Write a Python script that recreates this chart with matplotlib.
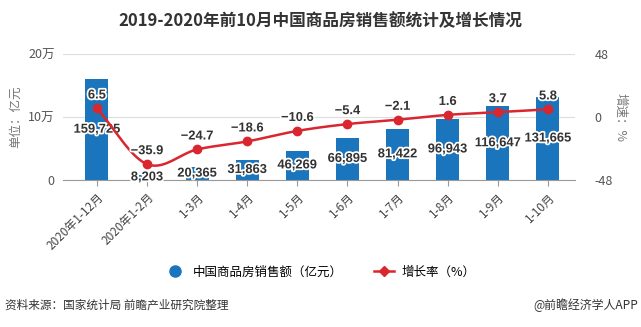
import matplotlib
matplotlib.use("Agg")
import matplotlib.pyplot as plt
import matplotlib.patheffects as pe
from matplotlib.lines import Line2D
import numpy as np

plt.rcParams['font.family'] = ['Noto Sans CJK SC', 'DejaVu Sans']

categories = ["2020年1-12月", "2020年1-2月", "1-3月", "1-4月", "1-5月",
              "1-6月", "1-7月", "1-8月", "1-9月", "1-10月"]
sales = [159725, 8203, 20365, 31863, 46269, 66895, 81422, 96943, 116647, 131665]
growth = [6.5, -35.9, -24.7, -18.6, -10.6, -5.4, -2.1, 1.6, 3.7, 5.8]

bar_color = "#1a75bc"
line_color = "#d9262f"

fig = plt.figure(figsize=(6.41, 3.27), dpi=100)
ax = fig.add_axes([0.098, 0.4495, 0.799, 0.3855])
ax2 = ax.twinx()

x = np.arange(len(categories))
ax.bar(x, sales, width=0.46, color=bar_color, zorder=2)
ax.set_xlim(-0.68, 9.54)
ax.set_ylim(0, 200000)
ax.set_yticks([0, 100000, 200000])
ax.set_yticklabels(["0", "10万", "20万"])
ax.grid(axis='y', color='#dddddd', linewidth=0.8, zorder=0)
ax.set_axisbelow(True)
for s in ['top', 'right', 'left']:
    ax.spines[s].set_visible(False)
ax.spines['bottom'].set_color('#999999')
ax.tick_params(axis='y', length=0, labelsize=9, colors='#555555', pad=6)
ax.tick_params(axis='x', length=4, color='#999999', labelsize=8.5, colors='#444444')
ax.set_xticks(x)
ax.set_xticklabels(categories, rotation=45, ha='right', rotation_mode='anchor')

def smooth(xs, ys, n=20):
    xs = np.asarray(xs, float); ys = np.asarray(ys, float)
    px = np.concatenate([[2*xs[0]-xs[1]], xs, [2*xs[-1]-xs[-2]]])
    py = np.concatenate([[2*ys[0]-ys[1]], ys, [2*ys[-1]-ys[-2]]])
    ox, oy = [], []
    for i in range(1, len(px)-2):
        t = np.linspace(0, 1, n, endpoint=False)
        for arr, out in ((px, ox), (py, oy)):
            p0, p1, p2, p3 = arr[i-1], arr[i], arr[i+1], arr[i+2]
            out.extend(0.5*((2*p1) + (-p0+p2)*t + (2*p0-5*p1+4*p2-p3)*t**2 + (-p0+3*p1-3*p2+p3)*t**3))
    ox.append(xs[-1]); oy.append(ys[-1])
    return ox, oy

sx, sy = smooth(x, growth)
ax2.plot(sx, sy, color=line_color, linewidth=1.8, zorder=3)
ax2.plot(x, growth, 'o', color=line_color, markersize=6, zorder=4)
ax2.set_ylim(-48, 48)
ax2.set_yticks([-48, 0, 48])
ax2.set_yticklabels(["-48", "0", "48"])
for s in ['top', 'right', 'left', 'bottom']:
    ax2.spines[s].set_visible(False)
ax2.tick_params(axis='y', length=0, labelsize=9, colors='#555555', pad=14)

stroke = [pe.withStroke(linewidth=2.5, foreground='white')]
for xi, v in zip(x, sales):
    ax.text(xi, v/2, f"{v:,}", ha='center', va='center', fontsize=9.3,
            fontweight='bold', color='#333333', path_effects=stroke, zorder=5,
            family=['Liberation Sans'])
for xi, g in zip(x, growth):
    lbl = f"{g}".replace('-', '−')
    ax2.annotate(lbl, (xi, g), xytext=(0, 5), textcoords='offset points',
                 ha='center', va='bottom', fontsize=9.3, fontweight='bold',
                 color='#333333', path_effects=stroke, zorder=6,
                 family=['Liberation Sans'])

fig.text(0.5, 0.935, "2019-2020年前10月中国商品房销售额统计及增长情况",
         ha='center', va='center', fontsize=12, fontweight='bold', color='#333333')
fig.text(0.025, 0.642, "单位：亿元", rotation=90, ha='center', va='center',
         fontsize=9, color='#777777')
fig.text(0.968, 0.642, "增速：%", rotation=270, ha='center', va='center',
         fontsize=9, color='#777777')

handles = [Line2D([], [], marker='o', linestyle='none', color=bar_color, markersize=8),
           Line2D([], [], marker='D', color=line_color, markersize=5, linewidth=1.8)]
fig.legend(handles, ["中国商品房销售额（亿元）", "增长率（%）"], loc='center',
           bbox_to_anchor=(0.5, 0.168), ncol=2, frameon=False, fontsize=9,
           handlelength=1.6, columnspacing=2.5, handletextpad=0.6)

fig.text(0.008, 0.067, "资料来源：国家统计局 前瞻产业研究院整理", ha='left', va='center',
         fontsize=8.4, color='#333333')
fig.text(0.995, 0.067, "@前瞻经济学人APP", ha='right', va='center',
         fontsize=8.6, color='#333333')

fig.savefig("out.png", dpi=100, facecolor='white')
